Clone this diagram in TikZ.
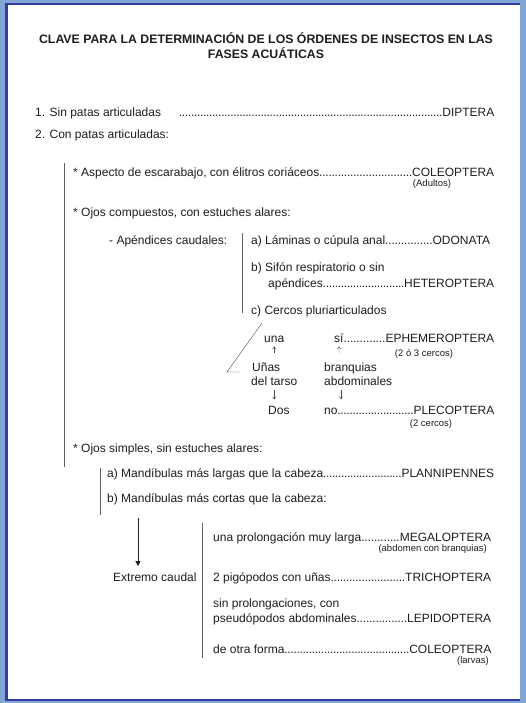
\documentclass[tikz,border=0pt]{standalone}
\usepackage{fontspec}
\setmainfont{Liberation Sans}
\usetikzlibrary{arrows.meta}
\definecolor{pageblue}{HTML}{7FA6D4}
\definecolor{edgeblue}{HTML}{3A3AA6}
\definecolor{ink}{HTML}{1E1E1E}
\newcommand{\leaderdots}{\xleaders\hbox to 3bp{\hss.\hss}\hfill}
\newcommand{\keyline}[3]{\hbox to #1{#2\leaderdots #3}}
\begin{document}
\begin{tikzpicture}[
    x=1bp, y=-1bp,
    line/.style={anchor=base west, inner sep=1pt, text=ink, font=\fontsize{12bp}{14bp}\selectfont},
    note/.style={anchor=base, inner sep=1pt, text=ink, font=\fontsize{9.5bp}{11bp}\selectfont},
    title/.style={anchor=base, inner sep=0pt, text=ink, font=\bfseries\fontsize{12.3bp}{14bp}\selectfont},
    bar/.style={draw=ink!70, line width=1bp},
    tinyarr/.style={-{Straight Barb[length=2.5bp,width=3.5bp]}, draw=ink!80, thin},
    bigarr/.style={-{Triangle[length=5bp,width=5bp]}, draw=ink, line width=0.8bp}
  ]
  % page
  \fill[pageblue] (0,0) rectangle (526,703);
  \fill[white] (5,3) rectangle (520,701);
  \draw[edgeblue, line width=2.5bp] (6.25,700) -- (6.25,4.25) -- (520,4.25);
  \draw[edgeblue, line width=2.5bp] (5,699.75) -- (520,699.75);

  % title
  \node[title] (t1) at (266,44) {CLAVE PARA LA DETERMINACIÓN DE LOS ÓRDENES DE INSECTOS EN LAS};
  \node[title] (t2) at (266,59) {FASES ACUÁTICAS};

  % 1 and 2
  \node[line] (sin) at (34,117) {\keyline{459bp}{1. Sin patas articuladas\hspace{18bp}}{DIPTERA}};
  \node[line] (con) at (34,139) {2. Con patas articuladas:};
  \node[line] (escar) at (72,176) {\keyline{421bp}{* Aspecto de escarabajo, con élitros coriáceos}{COLEOPTERA}};
  \node[note] (adul) at (432,186) {(Adultos)};

  % ojos compuestos
  \node[line] (comp) at (72,216) {* Ojos compuestos, con estuches alares:};
  \node[line] (apen) at (108,244) {- Apéndices caudales:};
  \node[line] (odon) at (250,244) {\keyline{239bp}{a) Láminas o cúpula anal}{ODONATA}};
  \node[line] (sifon) at (250,271) {b) Sifón respiratorio o sin};
  \node[line] (hete) at (267,287) {\keyline{226bp}{apéndices}{HETEROPTERA}};
  \node[line] (cerc) at (250,314) {c) Cercos pluriarticulados};
  \node[line] (una) at (263,342) {una};
  \node[line] (si) at (333,342) {\keyline{160bp}{sí}{EPHEMEROPTERA}};
  \node[note] (cerc23) at (424,356) {(2 ó 3 cercos)};
  \node[line] (unas) at (251,371) {Uñas};
  \node[line] (tarso) at (250,385) {del tarso};
  \node[line] (branq) at (323,371) {branquias};
  \node[line] (abdo) at (323,385) {abdominales};
  \node[line] (dos) at (267,414) {Dos};
  \node[line] (no) at (323,414) {\keyline{170bp}{no}{PLECOPTERA}};
  \node[note] (cerc2) at (431,426) {(2 cercos)};

  % ojos simples
  \node[line] (simp) at (72,452) {* Ojos simples, sin estuches alares:};
  \node[line] (larg) at (106,477) {\keyline{387bp}{a) Mandíbulas más largas que la cabeza}{PLANNIPENNES}};
  \node[line] (cort) at (106,502) {b) Mandíbulas más cortas que la cabeza:};
  \node[line] (mega) at (212,541) {\keyline{278bp}{una prolongación muy larga}{MEGALOPTERA}};
  \node[note, anchor=base east] (branc) at (488,551) {(abdomen con branquias)};
  \node[line] (extr) at (112,581) {Extremo caudal};
  \node[line] (tric) at (212,581) {\keyline{278bp}{2 pigópodos con uñas}{TRICHOPTERA}};
  \node[line] (prol) at (212,607) {sin prolongaciones, con};
  \node[line] (lepi) at (212,622) {\keyline{278bp}{pseudópodos abdominales}{LEPIDOPTERA}};
  \node[line] (otra) at (212,653) {\keyline{278bp}{de otra forma}{COLEOPTERA}};
  \node[note, anchor=base east] (larv) at (490,663) {(larvas)};

  % brackets
  \draw[bar] (64,163) -- (64,467);
  \draw[bar] (242,233) -- (242,313);
  \draw[bar] (100,468) -- (100,515);
  \draw[bar] (202,523) -- (202,658);
  \draw[draw=ink!80, thin] (262,323) -- (227,372) -- (240,372);

  % arrows
  \draw[tinyarr, shorten <=8bp, shorten >=3bp] (unas.north -| una.south) -- (una.south);
  \draw[tinyarr, shorten <=8bp, shorten >=3bp] ([xshift=16bp]branq.north west) -- ([xshift=6bp]si.south west);
  \draw[tinyarr, shorten <=4bp, shorten >=5bp] (tarso.south) -- (tarso.south |- dos.north);
  \draw[tinyarr, shorten <=4bp, shorten >=5bp] ([xshift=18bp]abdo.south west) -- ([xshift=18bp]abdo.south west |- no.north);
  \coordinate (cola) at (138,518);
  \draw[bigarr, shorten >=5bp] (cola) -- (cola |- extr.north);
\end{tikzpicture}
\end{document}
